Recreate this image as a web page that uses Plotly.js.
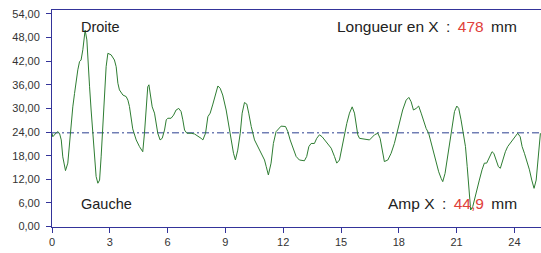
<!DOCTYPE html>
<html>
<head>
<meta charset="utf-8">
<script src="https://cdn.plot.ly/plotly-3.0.1.min.js"></script>
<style>
html,body{margin:0;padding:0;background:#fff;}
#chart{width:541px;height:253px;}
</style>
</head>
<body>
<div id="chart"></div>
<script>
// Profile position (x) and measured values (y)
const profileX = [0.00,0.04,0.22,0.30,0.39,0.48,0.56,0.65,0.70,0.82,0.91,0.99,1.08,1.17,1.25,1.34,1.43,1.51,1.60,1.72,1.81,1.86,1.95,2.03,2.12,2.21,2.29,2.38,2.47,2.55,2.64,2.72,2.81,2.90,3.07,3.24,3.33,3.42,3.50,3.68,3.85,3.94,
4.02,4.19,4.37,4.54,4.71,4.80,4.89,4.97,5.03,5.09,5.20,5.32,5.41,5.49,5.61,5.72,5.84,5.93,6.01,6.18,6.31,6.44,6.58,6.70,6.79,6.88,7.00,7.22,7.40,7.57,7.74,7.83,7.97,8.09,8.21,8.35,8.48,8.61,8.73,8.86,9.04,9.18,9.30,9.42,9.52,9.64,9.77,9.87,9.99,10.11,10.21,10.34,10.51,10.68,10.86,11.03,11.12,11.20,11.23,
11.37,11.49,11.63,11.77,11.89,12.12,12.24,12.36,12.50,12.67,12.84,13.10,13.22,13.33,13.45,13.62,13.74,13.88,14.02,14.14,14.31,14.49,14.66,14.78,14.92,15.06,15.18,15.30,15.44,15.58,15.70,15.79,15.87,15.96,16.22,16.48,16.74,16.91,17.03,17.14,17.25,17.43,17.60,17.77,17.95,18.03,
18.20,18.38,18.52,18.64,18.76,18.90,19.03,19.16,19.28,19.42,19.55,19.68,19.80,19.94,20.07,20.20,20.28,20.40,20.51,20.63,20.77,20.89,21.01,21.11,21.23,21.35,21.46,21.55,21.63,21.70,21.73,21.84,21.93,22.04,22.18,22.32,22.44,22.56,22.70,22.84,22.93,23.05,23.17,23.27,23.39,23.53,23.65,23.78,23.91,24.05,24.17,24.30,24.40,24.52,24.64,24.78,24.90,25.02,25.13,25.21,25.30,25.35];
const profileY = [23.7,22.8,23.8,24.1,23.7,22.0,17.7,15.2,14.2,16.1,21.1,26.2,30.4,33.8,37.2,39.8,41.9,42.3,44.9,49.9,47.4,42.3,35.5,29.6,23.7,17.7,12.7,11.0,11.8,17.7,25.4,33.8,40.6,44.0,43.6,42.3,40.6,36.4,34.7,33.4,33.0,32.1,
30.5,24.8,22.0,20.3,19.0,23.7,30.4,35.5,36.0,33.8,30.4,28.8,26.2,23.7,22.0,22.4,24.5,27.1,27.5,27.5,28.3,29.6,30.0,29.2,27.1,24.5,23.7,23.7,23.5,23.0,22.4,22.0,23.7,27.9,28.8,31.1,33.8,35.7,35.1,33.4,29.6,25.4,22.0,18.6,16.9,19.4,23.7,28.8,31.5,31.1,28.8,25.4,22.0,20.3,18.6,16.9,15.2,13.5,13.1,
16.1,21.1,24.1,24.9,25.5,25.4,24.1,22.0,19.9,17.8,16.9,16.7,17.8,20.3,21.1,21.1,22.4,23.3,22.8,22.0,21.1,19.9,17.8,16.1,16.9,20.3,23.7,26.2,28.8,30.4,28.8,25.4,23.3,22.4,22.2,22.0,23.3,23.7,22.4,19.4,16.5,16.9,18.6,21.1,24.5,26.2,
29.6,32.1,32.8,31.7,29.6,30.0,30.6,28.8,27.1,24.9,23.7,21.1,18.6,16.1,13.9,12.2,11.4,13.5,16.9,21.1,25.4,29.2,30.6,30.0,27.1,23.7,20.3,15.2,10.1,5.9,4.2,5.1,6.7,8.9,11.8,14.4,16.1,16.1,17.8,19.0,18.6,16.9,15.2,14.8,16.9,19.0,20.3,21.1,22.0,22.8,23.7,22.8,20.3,18.6,16.9,14.4,11.8,9.7,11.8,16.9,22.0,23.7];

const meanLevel = 23.8;
const xTickVals = [0,3,6,9,12,15,18,21,24];
const xTickText = ["0","3","6","9","12","15","18","21","24"];
const yTickVals = [0,6,12,18,24,30,36,42,48,54];
const yTickText = ["0,00","6,00","12,00","18,00","24,00","30,00","36,00","42,00","48,00","54,00"];
const labelTopLeft = "Droite";
const labelBottomLeft = "Gauche";
const lengthName = "Longueur en X";
const ampName = "Amp X";
const lengthValue = "478";
const ampValue = "44,9";
const unit = "mm";

const navy = "#34349a";
const red = "#e0403a";
const font = "Liberation Sans, Arial, sans-serif";
const gap = " \u2009";  // a space plus a thin space

function valueText(name, value) {
  return name + gap + ":" + gap + "<span style='color:" + red + "'>" + value + "</span>" + gap + unit;
}

const traces = [
  {
    x: [0, 25.4], y: [meanLevel, meanLevel],
    mode: "lines", type: "scatter", hoverinfo: "skip",
    line: {color: "#2b3f8f", width: 1, dash: "7px,3px,2px,3px"}
  },
  {
    x: profileX, y: profileY,
    mode: "lines", type: "scatter",
    line: {color: "#2e7d32", width: 1}
  }
];

const layout = {
  width: 541, height: 253,
  margin: {l: 52, r: 0, t: 10, b: 26, pad: 0},
  paper_bgcolor: "#ffffff", plot_bgcolor: "#ffffff",
  showlegend: false,
  font: {family: font, color: "#333333", size: 11},
  xaxis: {
    range: [0, 25.38], tickvals: xTickVals, ticktext: xTickText,
    showgrid: false, zeroline: false,
    showline: true, linecolor: navy, linewidth: 1, mirror: true,
    ticks: "outside", ticklen: 5, tickcolor: navy, tickwidth: 1,
    tickfont: {size: 11, color: "#333333", family: font}
  },
  yaxis: {
    range: [-0.12, 55.0], tickvals: yTickVals, ticktext: yTickText,
    showgrid: false, zeroline: false,
    showline: true, linecolor: navy, linewidth: 1,
    ticks: "outside", ticklen: 5, tickcolor: navy, tickwidth: 1,
    ticklabelstandoff: 4,
    tickfont: {size: 11, color: "#333333", family: font}
  },
  annotations: [
    {xref: "paper", yref: "paper", x: 0.056, y: 0.922, xanchor: "left", yanchor: "middle",
     text: labelTopLeft, showarrow: false, font: {size: 14.5, color: "#222222", family: font}},
    {xref: "paper", yref: "paper", x: 0.056, y: 0.106, xanchor: "left", yanchor: "middle",
     text: labelBottomLeft, showarrow: false, font: {size: 14.5, color: "#222222", family: font}},
    {xref: "paper", yref: "paper", x: 0.955, y: 0.922, xanchor: "right", yanchor: "middle",
     text: valueText(lengthName, lengthValue),
     showarrow: false, font: {size: 15.5, color: "#222222", family: font}},
    {xref: "paper", yref: "paper", x: 0.955, y: 0.106, xanchor: "right", yanchor: "middle",
     text: valueText(ampName, ampValue),
     showarrow: false, font: {size: 15.5, color: "#222222", family: font}}
  ]
};

Plotly.newPlot("chart", traces, layout, {displayModeBar: false, staticPlot: true});
</script>
</body>
</html>
